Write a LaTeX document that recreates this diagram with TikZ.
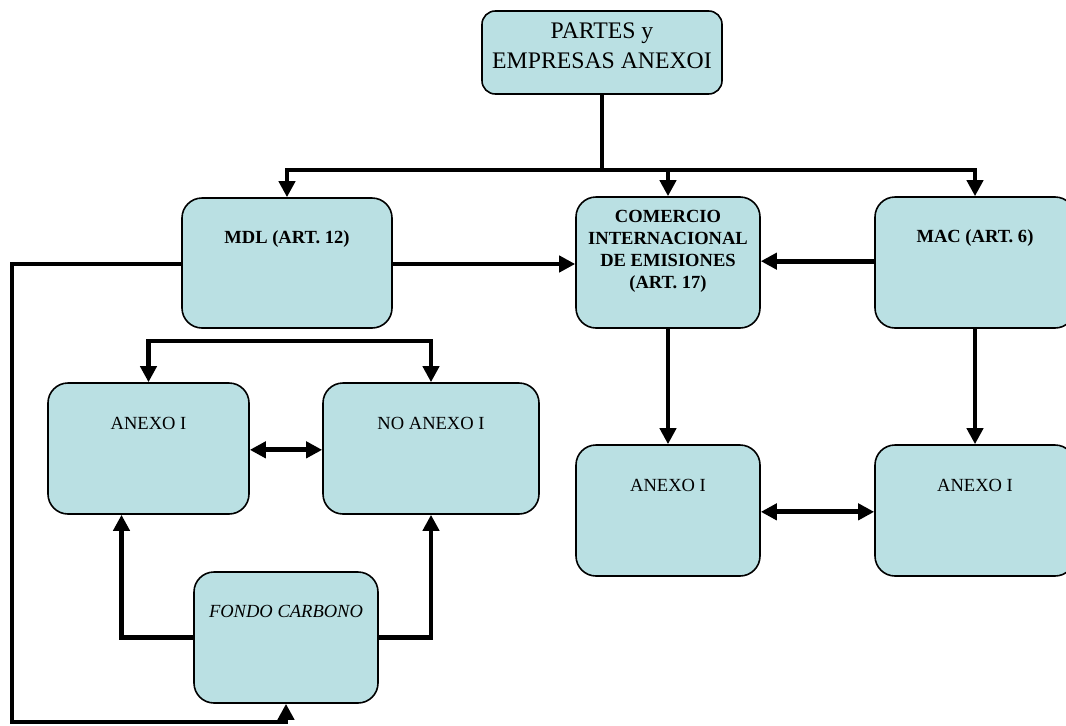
\documentclass[tikz,border=0pt]{standalone}
\usepackage{fontspec}
\setmainfont{Liberation Serif}
\usetikzlibrary{arrows.meta, positioning}
\definecolor{boxblue}{RGB}{186,224,227}
\tikzset{
  box/.style={draw, line width=1.2pt, fill=boxblue, rounded corners=15pt, inner sep=0pt},
  txt/.style={inner sep=0pt, align=center, font=\fontsize{13.9}{16.5}\selectfont#1},
  txt/.default={},
  conn/.style={line width=3.7pt},
  arr/.style={conn, -{Triangle[length=12pt, width=12pt]}},
  dblarr/.style={conn, {Triangle[length=12pt, width=12pt]}-{Triangle[length=12pt, width=12pt]}}
}

\begin{document}
\begin{tikzpicture}[x=0.75pt, y=-0.75pt]
            \useasboundingbox (0,0) rectangle (1066,725);
            \node[box, rounded corners=10pt, minimum width=180pt, minimum height=62.25pt] at (602,52.5) (partes) {};
            \node[box, minimum width=157.5pt, minimum height=97.5pt] at (287,263) (mdl) {};
            \node[box, minimum width=138pt, minimum height=98.25pt] at (668,262.5) (com) {};
            \node[box, minimum width=150pt, minimum height=98.25pt] at (975,262.5) (mac) {};
            \node[box, minimum width=150.75pt, minimum height=98.25pt] at (148.5,448.5) (anx1) {};
            \node[box, minimum width=162pt, minimum height=98.25pt] at (431,448.5) (noanx) {};
            \node[box, minimum width=138pt, minimum height=98.25pt] at (668,510.5) (anx2) {};
            \node[box, minimum width=150pt, minimum height=98.25pt] at (975,510.5) (anx3) {};
            \node[box, minimum width=138pt, minimum height=98.25pt] at (286,637.5) (fondo) {};

            \node[txt, font=\fontsize{17.8}{22.5}\selectfont] at ([yshift=-27pt]partes.north) (partestext) {PARTES y\\EMPRESAS ANEXOI};
            \node[txt=\bfseries] at ([yshift=-31.5pt]mdl.north) (mdltext) {MDL (ART. 12)};
            \node[txt=\bfseries] at ([yshift=-41pt]com.north) (comtext) {COMERCIO\\INTERNACIONAL\\DE EMISIONES\\(ART. 17)};
            \node[txt=\bfseries] at ([yshift=-31.5pt]mac.north) (mactext) {MAC (ART. 6)};
            \node[txt] at ([yshift=-31pt]anx1.north) (anx1text) {ANEXO I};
            \node[txt] at ([yshift=-31pt]noanx.north) (noanxtext) {NO ANEXO I};
            \node[txt] at ([yshift=-31pt]anx2.north) (anx2text) {ANEXO I};
            \node[txt] at ([yshift=-31pt]anx3.north) (anx3text) {ANEXO I};
            \node[txt=\itshape] at ([yshift=-30pt]fondo.north) (fondotext) {FONDO CARBONO};

            \coordinate (split) at (602,170);
            \coordinate (brk) at (290,341);
            \coordinate (lft) at (12,722);
            \draw[conn] (partes.south) -- (split);
            \draw[arr] (split) -| (mdl.north);
            \draw[arr] (split) -| (mac.north);
            \draw[arr] (split -| com.north) -- (com.north);
            \draw[arr] ([yshift=-0.75pt]mdl.east) -- ([yshift=-0.75pt]mdl.east -| com.west);
            \draw[arr] ([yshift=1pt]mac.west) -- ([yshift=1pt]mac.west -| com.east);
            \draw[arr] (com.south) -- (anx2.north);
            \draw[arr] (mac.south) -- (anx3.north);
            \draw[dblarr] ([yshift=-1pt]anx2.east) -- ([yshift=-1pt]anx3.west);
            \draw[dblarr] (anx1.north) |- (brk) -| (noanx.north);
            \draw[dblarr] ([yshift=-1pt]anx1.east) -- ([yshift=-1pt]noanx.west);
            \draw[arr] (fondo.west) -| ([xshift=-20.25pt]anx1.south);
            \draw[arr] (fondo.east) -| (noanx.south);
            \draw[arr] ([yshift=-0.75pt]mdl.west) -| (lft) -| (fondo.south);
          \end{tikzpicture}
\end{document}
